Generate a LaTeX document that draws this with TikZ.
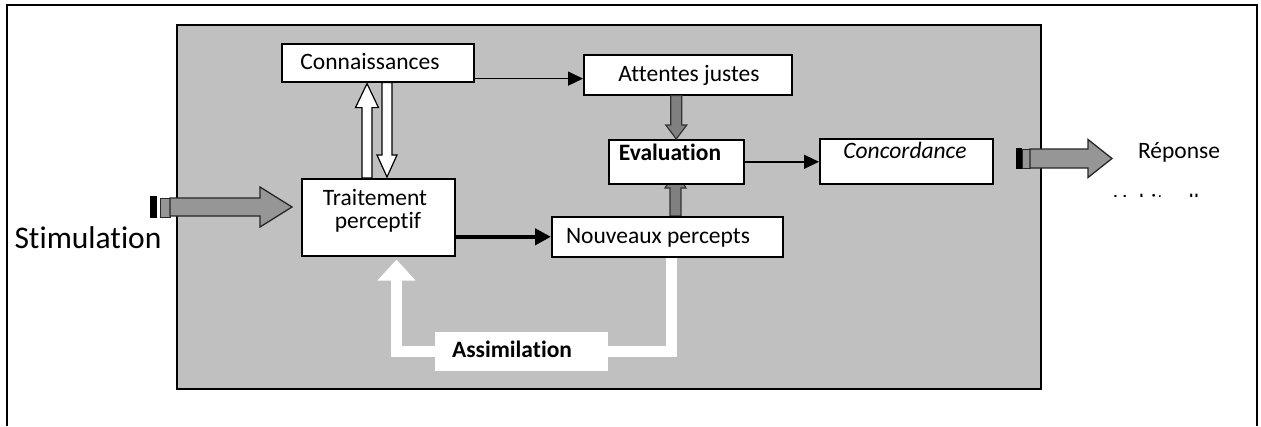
\documentclass[tikz,border=0pt]{standalone}
\usepackage{fontspec}
\setmainfont{Carlito}[Ligatures={NoCommon,NoRare,NoContextual}]
\usetikzlibrary{arrows.meta,calc}
\definecolor{panelgray}{HTML}{C0C0C0}
\definecolor{arrowgray}{HTML}{969696}
\definecolor{darkarrow}{HTML}{808080}
\newcommand\vblock[6]{\path[#1] let \p1=#2, \p2=#3, \n1={(\y2>\y1)?1:-1} in
  ({\x1-#4},{\y1}) -- ({\x1-#4},{\y2-(\n1)*#6}) -- ({\x1-#5},{\y2-(\n1)*#6}) -- (\x2,\y2)
  -- ({\x1+#5},{\y2-(\n1)*#6}) -- ({\x1+#4},{\y2-(\n1)*#6}) -- ({\x1+#4},{\y1}) -- cycle;}
\newcommand\hblock[6]{\path[#1] let \p1=#2, \p2=#3, \n1={(\x2>\x1)?1:-1} in
  ({\x1},{\y1-#4}) -- ({\x2-(\n1)*#6},{\y1-#4}) -- ({\x2-(\n1)*#6},{\y1-#5}) -- (\x2,\y2)
  -- ({\x2-(\n1)*#6},{\y1+#5}) -- ({\x2-(\n1)*#6},{\y1+#4}) -- ({\x1},{\y1+#4}) -- cycle;}
\begin{document}
\begin{tikzpicture}[x=1pt,y=-1pt,
  box/.style={draw=black, line width=1.6pt, fill=white, inner sep=0pt, anchor=north west},
  txt/.style={inner sep=0pt, font=\fontsize{23.5}{23.5}\selectfont, anchor=base},
  thinarrow/.style={draw=black, line width=1.5pt, -{Triangle[length=15pt,width=14pt]}},
  thickarrow/.style={draw=black, line width=4pt, -{Triangle[length=16pt,width=16pt]}},
  whiteblock/.style={fill=white, draw=black, line width=1.2pt},
  grayblock/.style={fill=darkarrow, draw=black!80, line width=1.2pt},
  bigblock/.style={fill=arrowgray, draw=black!85, line width=1.3pt},
  loopline/.style={draw=white, line width=10.5pt, -{Triangle[length=21pt,width=37pt]}}]
\useasboundingbox (0,0) rectangle (1261,426);
% frame
\draw[line width=2pt] (7,426) -- (7,5) -- (1257,5) -- (1257,426);
% panel
\node[draw=black, line width=2pt, fill=panelgray, minimum width=864pt, minimum height=364pt, anchor=north west, inner sep=0pt] (panel) at (176,24) {};
% arrow behind Evaluation
\coordinate (evc) at (675.5,171);
\coordinate (npt) at (675.5,216);
\vblock{grayblock}{(npt)}{(evc)}{5.5pt}{10.5pt}{17pt}
% boxes
\node[box, minimum width=192pt, minimum height=38pt] (kn) at (281,43) {};
\node[box, minimum width=208pt, minimum height=40pt] (att) at (583,54) {};
\node[box, minimum width=135pt, minimum height=44pt] (ev) at (608,139) {};
\node[box, minimum width=173pt, minimum height=45pt] (cc) at (819,138) {};
\node[box, minimum width=153pt, minimum height=77pt] (tp) at (301,178) {};
\node[box, minimum width=231pt, minimum height=40pt] (np) at (551,216) {};
% texts
\node[txt] (knt) at (370,69) {Connaissances};
\node[txt] (attt) at (689,81) {Attentes justes};
\node[txt, font=\fontsize{23.5}{23.5}\selectfont\bfseries] (evt) at (670,160) {Evaluation};
\node[txt, font=\fontsize{23.5}{23.5}\selectfont\itshape] (cct) at (905,158) {Concordance};
\node[txt] (tpt1) at (375,205) {Traitement};
\node[txt] (tpt2) at (378,228) {perceptif};
\node[txt] (npt2) at (658,243) {Nouveaux percepts};
% line arrows
\coordinate (k1) at ($(kn.south east)+(0,-4)$);
\draw[thinarrow] (k1) -- (k1 -| att.west);
\draw[thickarrow] (tp.east |- np.west) -- (np.west);
\draw[thinarrow] (ev.east) -- (ev.east -| cc.west);
% white block arrows
\coordinate (upT) at ($(tp.north west)+(66,0)$);
\coordinate (upK) at ($(kn.south west)+(86,1)$);
\vblock{whiteblock}{(upT)}{(upK)}{5pt}{11.5pt}{24pt}
\coordinate (dnK) at ($(kn.south west)+(106,0)$);
\coordinate (dnT) at ($(tp.north west)+(86,-1)$);
\vblock{whiteblock}{(dnK)}{(dnT)}{5pt}{10pt}{22pt}
% gray block arrow Attentes -> Evaluation
\vblock{grayblock}{(ev.north |- att.south)}{(ev.north)}{5.5pt}{10.5pt}{14pt}
% assimilation loop
\coordinate (lp1) at ($(np.south west)+(120.5,0)$);
\node[inner sep=0pt, minimum width=173pt, minimum height=39pt, anchor=north west] (as) at (435,332) {};
\draw[loopline] (lp1) |- (as.center) -| ($(tp.south west)+(95.5,3)$);
\node[fill=white, inner sep=0pt, minimum width=173pt, minimum height=39pt, anchor=north west] (as2) at (435,332) {};
\node[txt, font=\fontsize{23.5}{23.5}\selectfont\bfseries] (ast) at (512,357) {Assimilation};
% stimulation arrow
\node[fill=black, inner sep=0pt, minimum width=7pt, minimum height=22pt, anchor=north west] (sb) at (150,196) {};
\node[fill=arrowgray, draw=black!85, line width=1.2pt, inner sep=0pt, minimum width=10pt, minimum height=19pt, anchor=north west] (sg) at (160,198) {};
\coordinate (stail) at (170,207);
\coordinate (stip) at (292,207);
\hblock{bigblock}{(stail)}{(stip)}{9pt}{20pt}{32pt}
\node[txt, font=\fontsize{31.5}{31.5}\selectfont] (stim) at (88,248) {Stimulation};
% response arrow
\node[fill=black, inner sep=0pt, minimum width=6pt, minimum height=21pt, anchor=north west] (rb) at (1016,148) {};
\node[fill=arrowgray, draw=black!85, line width=1.2pt, inner sep=0pt, minimum width=8pt, minimum height=19pt, anchor=north west] (rg) at (1022,149) {};
\coordinate (rtail) at (1030,158.5);
\coordinate (rtip) at (1112,158.5);
\hblock{bigblock}{(rtail)}{(rtip)}{9.5pt}{19pt}{24pt}
\node[txt] (rep) at (1179,158) {Réponse};
\begin{scope}
\clip (1090,188) rectangle (1240,196);
\node[txt] (hab) at (1162,210) {Habituelle};
\end{scope}
\end{tikzpicture}
\end{document}
